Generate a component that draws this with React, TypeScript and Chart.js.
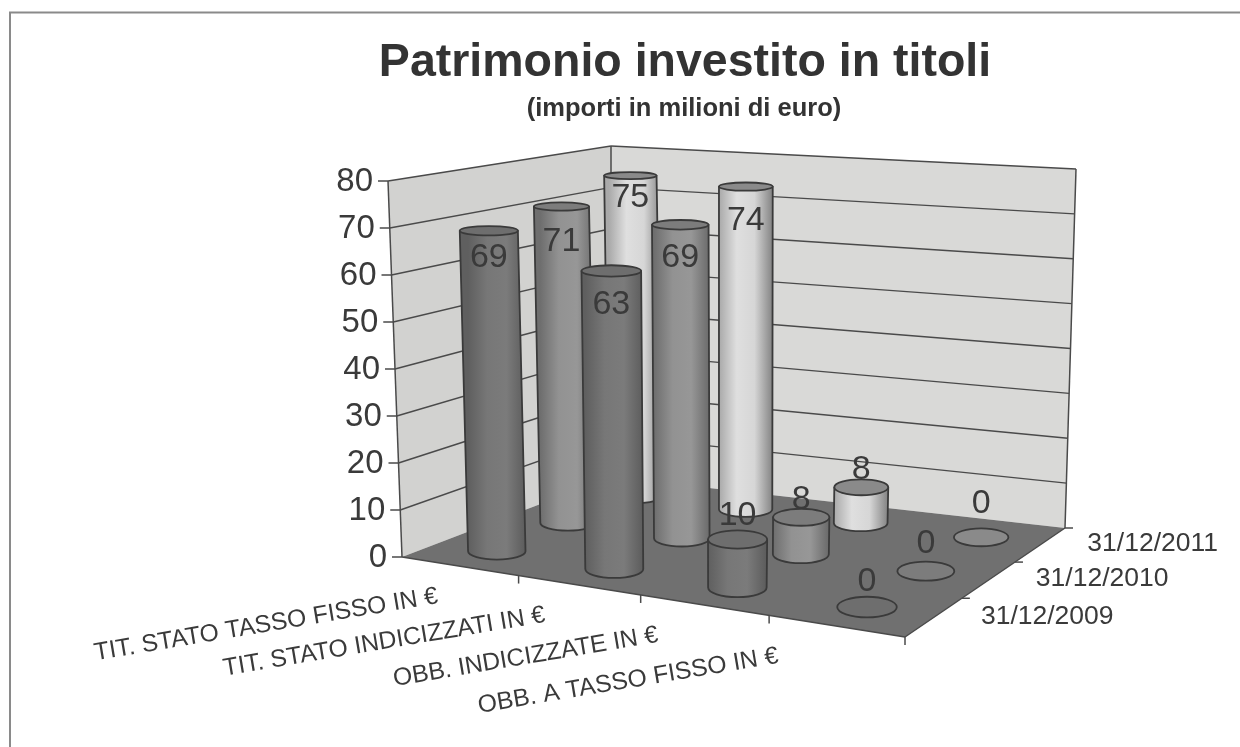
import React, { useEffect, useRef } from "react";
import { Chart, BarController, BarElement, CategoryScale, LinearScale, Title, SubTitle } from "chart.js";

const TITLE = "Patrimonio investito in titoli";
const SUBTITLE = "(importi in milioni di euro)";
const CATEGORIES = [
  "TIT. STATO TASSO FISSO IN €",
  "TIT. STATO INDICIZZATI IN €",
  "OBB. INDICIZZATE IN €",
  "OBB. A TASSO FISSO IN €",
];
const DATES = ["31/12/2009", "31/12/2010", "31/12/2011"];
const VALUES_2009 = [69, 63, 10, 0];
const VALUES_2010 = [71, 69, 8, 0];
const VALUES_2011 = [75, 74, 8, 0];
const Y_MAX = 80;
const Y_STEP = 10;

const FONT = "'Liberation Sans', Arial, sans-serif";
const INK = "#3a3a3a";

// 3D view: the floor and ceiling quads of the plot box (front-left, front-right, back-right, back-left)
const FLOOR = [[402, 557], [905, 637], [1065, 528], [611, 477]];
const CEILING = [[388, 181], [912, 237], [1076, 169], [611, 146]];
const RADIUS_U = 0.048;
const RADIUS_V = 0.085;
// small vertical nudges of the value labels, per series and category
const LABEL_NUDGE = [[-2, 9, -6, 1], [4, 4, 2, -2], [-12, 1, 2, -8]];

const SERIES_STYLE = [
  { stops: ["#5f5f5f", "#777777", "#7b7b7b", "#5c5c5c"], top: "#6e6e6e" },
  { stops: ["#6e6e6e", "#929292", "#979797", "#6a6a6a"], top: "#7c7c7c" },
  { stops: ["#a9a9a9", "#dfdfdf", "#d6d6d6", "#858585"], top: "#8a8a8a" },
];

function homography(q: number[][]) {
  const [[x0, y0], [x1, y1], [x2, y2], [x3, y3]] = q;
  const dx1 = x1 - x2, dx2 = x3 - x2, dx3 = x0 - x1 + x2 - x3;
  const dy1 = y1 - y2, dy2 = y3 - y2, dy3 = y0 - y1 + y2 - y3;
  const den = dx1 * dy2 - dx2 * dy1;
  const g = (dx3 * dy2 - dx2 * dy3) / den;
  const h = (dx1 * dy3 - dx3 * dy1) / den;
  const a = x1 - x0 + g * x1, b = x3 - x0 + h * x3;
  const d = y1 - y0 + g * y1, e = y3 - y0 + h * y3;
  return (u: number, v: number) => {
    const k = g * u + h * v + 1;
    const hx = (a * u + b * v + x0) / k, hy = (d * u + e * v + y0) / k;
    const lin = (i: number) =>
      q[0][i] * (1 - u) * (1 - v) + q[1][i] * u * (1 - v) + q[2][i] * u * v + q[3][i] * (1 - u) * v;
    return [(hx + lin(0)) / 2, (hy + lin(1)) / 2];
  };
}
const floorAt = homography(FLOOR);
const ceilingAt = homography(CEILING);
function project(u: number, v: number, w: number) {
  const p = floorAt(u, v), q = ceilingAt(u, v);
  return [p[0] + (q[0] - p[0]) * w, p[1] + (q[1] - p[1]) * w];
}
// cylinders stand almost upright: they lean far less than the wall edges
function axisPoint(u: number, v: number, w: number) {
  return [floorAt(u, v)[0] + 4 * v + w * (-13 + 22 * u + 6 * v), project(u, v, w)[1]];
}
function disc(u: number, v: number, w: number) {
  const c = project(u, v, w);
  const a = axisPoint(u, v, w);
  let rx = 0, ry = 0;
  for (let i = 0; i < 48; i++) {
    const t = (i / 48) * Math.PI * 2;
    const p = project(u + RADIUS_U * Math.cos(t), v + RADIUS_V * Math.sin(t), w);
    rx = Math.max(rx, Math.abs(p[0] - c[0]));
    ry = Math.max(ry, Math.abs(p[1] - c[1]));
  }
  return { x: a[0], y: a[1], rx, ry };
}
const fracU = (chart: any, i: number) => {
  const s = chart.scales.x;
  return (s.getPixelForValue(i) - s.left) / s.width;
};
const fracV = (chart: any, i: number) => {
  const s = chart.scales.z;
  return (s.bottom - s.getPixelForValue(i)) / s.height;
};
const fracW = (chart: any, value: number) => {
  const s = chart.scales.y;
  return (s.bottom - s.getPixelForValue(value)) / s.height;
};

class CylinderController extends BarController {
  static id = "cylinder";
  static defaults = BarController.defaults;
  static overrides = BarController.overrides;
  draw() {
    const chart: any = this.chart;
    const ctx = chart.ctx;
    const di = this.index;
    const style = SERIES_STYLE[di];
    const n = this._cachedMeta.data.length;
    for (let i = 0; i < n; i++) {
      const parsed: any = this.getParsed(i);
      const u = fracU(chart, parsed.x);
      const v = fracV(chart, di);
      const b = disc(u, v, 0);
      const t = disc(u, v, fracW(chart, parsed.y));
      ctx.save();
      ctx.lineWidth = 1.8;
      ctx.strokeStyle = INK;
      ctx.lineJoin = "round";
      if (parsed.y > 0) {
        const g = ctx.createLinearGradient(b.x - b.rx, 0, b.x + b.rx, 0);
        style.stops.forEach((c: string, k: number) => g.addColorStop(k / (style.stops.length - 1), c));
        ctx.beginPath();
        ctx.moveTo(t.x - t.rx, t.y);
        ctx.lineTo(b.x - b.rx, b.y);
        ctx.ellipse(b.x, b.y, b.rx, b.ry, 0, Math.PI, 0, true);
        ctx.lineTo(t.x + t.rx, t.y);
        ctx.closePath();
        ctx.fillStyle = g;
        ctx.fill();
        ctx.stroke();
      }
      ctx.beginPath();
      ctx.ellipse(t.x, t.y, t.rx, t.ry, 0, 0, Math.PI * 2);
      ctx.fillStyle = style.top;
      ctx.fill();
      ctx.stroke();
      ctx.restore();
    }
  }
}

class ValueAxis extends LinearScale {
  static id = "valueAxis";
  static defaults = LinearScale.defaults;
  _computeLabelArea() { return undefined; }
  _computeLabelItems(area: any) {
    const items = super._computeLabelItems(area);
    items.forEach((it: any, i: number) => {
      const w = fracW(this.chart, this.ticks[i].value);
      it.textOffset = 0;
      it.options.textAlign = "right";
      it.options.textBaseline = "middle";
      it.options.translation = [project(0, 0, w)[0] - 15, project(0, 0, w)[1] + 1];
    });
    return items;
  }
}

class CategoryAxis extends CategoryScale {
  static id = "categoryAxis";
  static defaults = CategoryScale.defaults;
  _computeLabelArea() { return undefined; }
  _computeLabelItems(area: any) {
    const items = super._computeLabelItems(area);
    items.forEach((it: any, i: number) => {
      const u = fracU(this.chart, i);
      const p = project(u, 0, 0);
      it.textOffset = 0;
      it.options.textAlign = "right";
      it.options.textBaseline = "middle";
      it.options.rotation = (-9.5 * Math.PI) / 180;
      it.options.translation = [p[0] - 16 - 48 * u, p[1] + 30];
    });
    return items;
  }
}

class DepthAxis extends CategoryScale {
  static id = "depthAxis";
  static defaults = CategoryScale.defaults;
  _computeLabelArea() { return undefined; }
  _computeLabelItems(area: any) {
    const items = super._computeLabelItems(area);
    items.forEach((it: any, i: number) => {
      const p = project(1, fracV(this.chart, i), 0);
      it.textOffset = 0;
      it.options.textAlign = "left";
      it.options.textBaseline = "middle";
      it.options.translation = [p[0] + 47, p[1] - 1];
    });
    return items;
  }
}

function polygon(ctx: any, pts: number[][], fill?: string) {
  ctx.beginPath();
  pts.forEach((p, i) => (i ? ctx.lineTo(p[0], p[1]) : ctx.moveTo(p[0], p[1])));
  ctx.closePath();
  if (fill) {
    ctx.fillStyle = fill;
    ctx.fill();
  }
}
function segment(ctx: any, a: number[], b: number[]) {
  ctx.beginPath();
  ctx.moveTo(a[0], a[1]);
  ctx.lineTo(b[0], b[1]);
  ctx.stroke();
}

const scene3d = {
  id: "scene3d",
  afterLayout(chart: any) {
    chart.boxes.forEach((b: any) => {
      const text = b.options && b.options.text;
      const shift = text === TITLE ? 65 : text === SUBTITLE ? 64 : 0;
      b.left += shift;
      b.right += shift;
    });
  },
  beforeDraw(chart: any) {
    const ctx = chart.ctx;
    ctx.save();
    ctx.strokeStyle = "#8a8a8a";
    ctx.lineWidth = 2;
    ctx.beginPath();
    ctx.moveTo(10, 747);
    ctx.lineTo(10, 12.5);
    ctx.lineTo(1240, 12.5);
    ctx.stroke();
    ctx.restore();
  },
  beforeDatasetsDraw(chart: any) {
    const ctx = chart.ctx;
    ctx.save();
    ctx.lineJoin = "round";
    polygon(ctx, [FLOOR[0], FLOOR[3], CEILING[3], CEILING[0]], "#d2d2d0");
    polygon(ctx, [FLOOR[3], FLOOR[2], CEILING[2], CEILING[3]], "#d9d9d7");
    polygon(ctx, FLOOR, "#707070");
    ctx.strokeStyle = "#4a4a4a";
    ctx.lineWidth = 1.5;
    chart.scales.y.ticks.forEach((t: any) => {
      const w = fracW(chart, t.value);
      const a = project(0, 0, w), b = project(0, 1, w), c = project(1, 1, w);
      segment(ctx, [a[0] - 10, a[1]], a);
      if (w > 0) {
        segment(ctx, a, b);
        segment(ctx, b, c);
      }
    });
    segment(ctx, FLOOR[0], CEILING[0]);
    segment(ctx, FLOOR[3], CEILING[3]);
    segment(ctx, FLOOR[2], CEILING[2]);
    segment(ctx, FLOOR[0], FLOOR[1]);
    segment(ctx, FLOOR[1], FLOOR[2]);
    for (let i = 1; i <= CATEGORIES.length; i++) {
      const p = project(i / CATEGORIES.length, 0, 0);
      segment(ctx, p, [p[0], p[1] + 8]);
    }
    for (let i = 1; i <= DATES.length; i++) {
      const p = project(1, i / DATES.length, 0);
      segment(ctx, p, [p[0] + 8, p[1]]);
    }
    ctx.restore();
  },
  afterDatasetsDraw(chart: any) {
    const ctx = chart.ctx;
    ctx.save();
    ctx.font = `34px ${FONT}`;
    ctx.textAlign = "center";
    ctx.textBaseline = "middle";
    ctx.fillStyle = INK;
    chart.data.datasets.forEach((ds: any, di: number) => {
      ds.data.forEach((value: number, i: number) => {
        const c = axisPoint(fracU(chart, i), fracV(chart, di), fracW(chart, value));
        ctx.fillText(String(value), c[0], c[1] - 26 + 0.8 * value + LABEL_NUDGE[di][i]);
      });
    });
    ctx.restore();
  },
};

Chart.register(CylinderController, BarElement, ValueAxis, CategoryAxis, DepthAxis, Title, SubTitle, scene3d);

export default function App() {
  const ref = useRef<HTMLCanvasElement>(null);
  useEffect(() => {
    const chart = new Chart(ref.current as HTMLCanvasElement, {
      type: "cylinder" as any,
      data: {
        labels: CATEGORIES,
        datasets: [
          { label: DATES[0], data: VALUES_2009, clip: false },
          { label: DATES[1], data: VALUES_2010, clip: false },
          { label: DATES[2], data: VALUES_2011, clip: false },
        ],
      },
      options: {
        animation: false,
        responsive: false,
        plugins: {
          legend: { display: false },
          tooltip: { enabled: false },
          title: {
            display: true,
            text: TITLE,
            color: "#333333",
            font: { family: FONT, size: 46.5, weight: "bold" },
            padding: { top: 35, bottom: 3 },
          },
          subtitle: {
            display: true,
            text: SUBTITLE,
            color: "#333333",
            font: { family: FONT, size: 25.5, weight: "bold" },
            padding: { top: 0, bottom: 54 },
          },
        } as any,
        scales: {
          x: {
            type: "categoryAxis",
            position: "bottom",
            offset: true,
            grid: { display: false },
            border: { display: false },
            ticks: { autoSkip: false, maxRotation: 0, color: INK, font: { family: FONT, size: 24.7 } },
            afterFit: (s: any) => { s.height = 190; },
          },
          y: {
            type: "valueAxis",
            position: "left",
            min: 0,
            max: Y_MAX,
            grid: { display: false },
            border: { display: false },
            ticks: { stepSize: Y_STEP, color: INK, font: { family: FONT, size: 33 } },
            afterFit: (s: any) => { s.width = 402; },
          },
          z: {
            type: "depthAxis",
            axis: "y",
            position: "right",
            labels: DATES,
            reverse: true,
            offset: true,
            grid: { display: false },
            border: { display: false },
            ticks: { autoSkip: false, color: INK, font: { family: FONT, size: 26.5 } },
            afterFit: (s: any) => { s.width = 335; },
          },
        } as any,
      },
    });
    return () => chart.destroy();
  }, []);
  return (
    <canvas
      ref={ref}
      width={1240}
      height={747}
      style={{ position: "absolute", left: 0, top: 0, width: 1240, height: 747 }}
    />
  );
}
